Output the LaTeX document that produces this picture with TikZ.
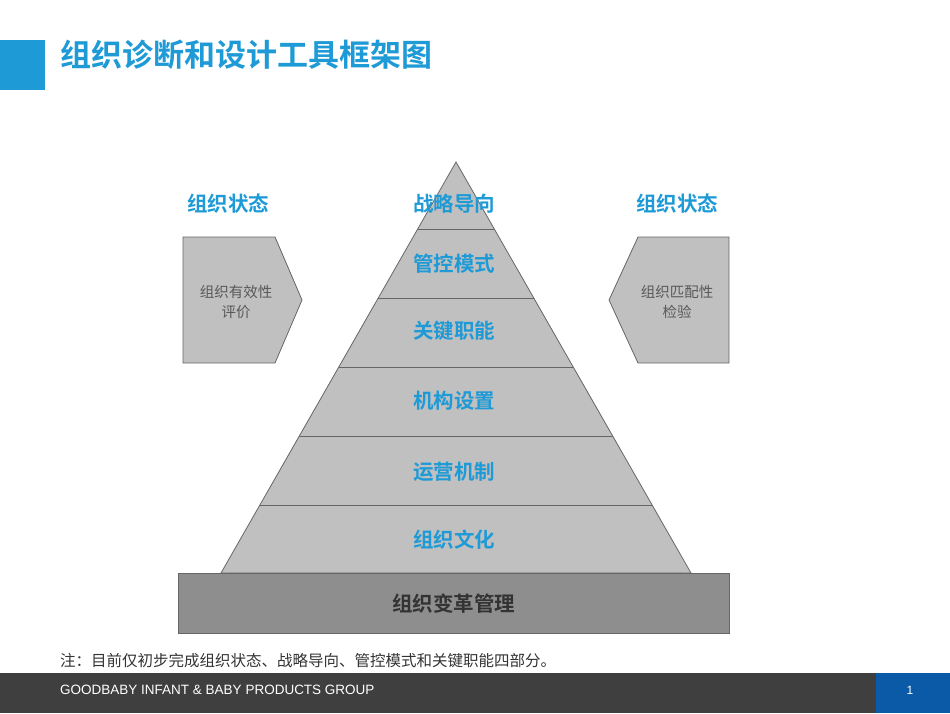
\documentclass[tikz,border=0pt]{standalone}
\usepackage{fontspec}
\setmainfont{Noto Sans CJK SC}[BoldFont={Noto Sans CJK SC Bold}]
\newfontfamily\lat{Liberation Sans}
\definecolor{tblue}{HTML}{1E9AD6}
\definecolor{pgray}{HTML}{C0C0C0}
\definecolor{bgray}{HTML}{8E8E8E}
\definecolor{foot}{HTML}{3F3F3F}
\definecolor{fblue}{HTML}{0A5AA8}
\begin{document}
\begin{tikzpicture}[x=1pt,y=-1pt,
  lbl/.style={text=tblue,font=\bfseries\fontsize{20.5}{22}\selectfont,inner sep=0},
  small/.style={text=black!65,font=\fontsize{14.5}{20}\selectfont,align=center,inner sep=0},
  shp/.style={fill=pgray,draw=black!60,line width=0.8pt}]
\useasboundingbox (0,0) rectangle (950,713);
\fill[tblue] (0,40) rectangle (45,90);
\node[anchor=west,text=tblue,font=\bfseries\fontsize{31}{33}\selectfont,inner sep=0] (title) at (60,55) {组织诊断和设计工具框架图};
% pyramid
\coordinate (apex) at (456,162);
\filldraw[shp] (apex) -- (691,573) -- (221,573) -- cycle;
\begin{scope}
\clip (apex) -- (691,573) -- (221,573) -- cycle;
\foreach \y in {229,298,367,436,505} \draw[black!60,line width=0.8pt] (150,\y) -- (760,\y);
\end{scope}
\node[shp,minimum width=551pt,minimum height=60pt,anchor=north west,inner sep=0] (base) at (178,573) {};
\fill[bgray] (base.north west) rectangle (base.south east);
\draw[black!60,line width=0.8pt] (base.north west) rectangle (base.south east);
\node[text=black!80,font=\bfseries\fontsize{20.5}{22}\selectfont] at (base) {组织变革管理};
\node[lbl] (l1) at (454,204) {战略导向};
\node[lbl] (l2) at (454,264) {管控模式};
\node[lbl] (l3) at (454,331) {关键职能};
\node[lbl] (l4) at (454,401) {机构设置};
\node[lbl] (l5) at (454,472) {运营机制};
\node[lbl] (l6) at (454,540) {组织文化};
\node[lbl] (s1) at (228,204) {组织状态};
\node[lbl] (s2) at (677,204) {组织状态};
\filldraw[shp] (183,237) -- (275,237) -- (302,300) -- (275,363) -- (183,363) -- cycle;
\filldraw[shp] (729,237) -- (638,237) -- (609,300) -- (638,363) -- (729,363) -- cycle;
\node[small] (t1) at (236,302) {组织有效性\\评价};
\node[small] (t2) at (677,302) {组织匹配性\\检验};
\node[anchor=west,inner sep=0,text=black!80,font=\fontsize{15.5}{16}\selectfont] (note) at (60,661) {注：目前仅初步完成组织状态、战略导向、管控模式和关键职能四部分。};
\fill[foot] (0,673) rectangle (876,713);
\fill[fblue] (876,673) rectangle (950,713);
\node[anchor=west,inner sep=0,text=white,font=\lat\fontsize{13.5}{14}\selectfont] (ft) at (60,690) {GOODBABY INFANT \& BABY PRODUCTS GROUP};
\node[inner sep=0,text=white,font=\lat\fontsize{12}{13}\selectfont] (pg) at (910,690) {1};
\end{tikzpicture}
\end{document}
